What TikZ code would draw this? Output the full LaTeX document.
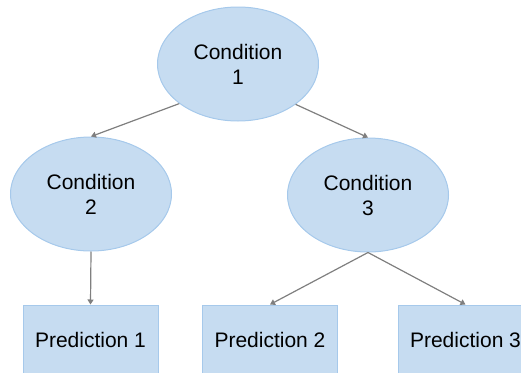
\documentclass[tikz,border=0pt]{standalone}
\usepackage{fontspec}
\setmainfont{Liberation Sans}
\usetikzlibrary{shapes.geometric,arrows.meta}
\definecolor{condfill}{HTML}{C6DCF1}
\definecolor{condline}{HTML}{A6C9EB}
\definecolor{edgegray}{HTML}{7F7F7F}
\tikzset{
  cond/.style = {ellipse, draw = condline, fill = condfill, line width = 1pt,
    minimum width = 161, minimum height = 114, inner sep = 0pt, align = center,
    font = \fontsize{21}{25}\selectfont},
  pred/.style = {rectangle, draw = condline, fill = condfill, line width = 1pt,
    minimum width = 135, minimum height = 70, inner sep = 0pt,
    font = \fontsize{21}{25}\selectfont},
}
\begin{document}
\begin{tikzpicture}[x = 1pt, y = -1pt, >={Triangle[length=5pt, width=6pt]}]
\path [use as bounding box, clip] (0,0) rectangle (521,372);
\node (C1) [cond] at (238,64) {Condition\\1};
\node (C2) [cond] at (91,194) {Condition\\2};
\node (C3) [cond] at (368,195) {Condition\\3};
\node (P1) [pred] at (90.5,340) {Prediction 1};
\node (P2) [pred] at (270,340) {Prediction 2};
\node (P3) [pred] at (465.5,340) {Prediction 3};
\draw [->, edgegray, line width = 1.2pt] (C1.214) -- (C2.north);
\draw [->, edgegray, line width = 1.2pt] (C1.-35) -- (C3.north);
\draw [->, edgegray, line width = 1.2pt] (C2.south) -- (P1.north);
\draw [->, edgegray, line width = 1.2pt] (C3.south) -- (P2.north);
\draw [->, edgegray, line width = 1.2pt] (C3.south) -- (P3.north);
\end{tikzpicture}
\end{document}
